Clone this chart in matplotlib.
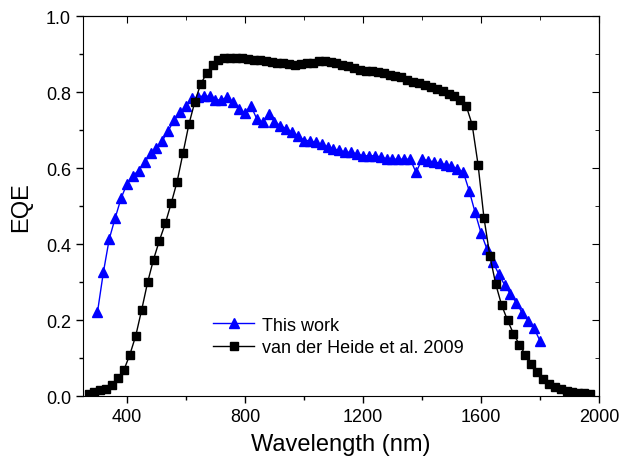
import matplotlib
matplotlib.use("Agg")
import matplotlib.pyplot as plt
from matplotlib.ticker import MultipleLocator

plt.rcParams['font.family'] = ['Liberation Sans', 'DejaVu Sans']

# This work (blue triangles)
wl_this = [300, 320, 340, 360, 380, 400, 420, 440, 460, 480,
           500, 520, 540, 560, 580, 600, 620, 640, 660, 680,
           700, 720, 740, 760, 780, 800, 820, 840, 860, 880,
           900, 920, 940, 960, 980, 1000, 1020, 1040, 1060, 1080,
           1100, 1120, 1140, 1160, 1180, 1200, 1220, 1240, 1260, 1280,
           1300, 1320, 1340, 1360, 1380, 1400, 1420, 1440, 1460, 1480,
           1500, 1520, 1540, 1560, 1580, 1600, 1620, 1640, 1660, 1680,
           1700, 1720, 1740, 1760, 1780, 1800]
eqe_this = [0.221, 0.326, 0.414, 0.469, 0.521, 0.559, 0.581, 0.594, 0.616, 0.639,
            0.653, 0.673, 0.699, 0.727, 0.747, 0.763, 0.784, 0.787, 0.791, 0.789,
            0.780, 0.780, 0.787, 0.774, 0.756, 0.746, 0.765, 0.730, 0.721, 0.743,
            0.723, 0.712, 0.704, 0.695, 0.686, 0.673, 0.673, 0.668, 0.663, 0.657,
            0.651, 0.647, 0.643, 0.642, 0.638, 0.633, 0.633, 0.633, 0.630, 0.625,
            0.624, 0.624, 0.624, 0.624, 0.589, 0.624, 0.620, 0.617, 0.613, 0.610,
            0.606, 0.598, 0.590, 0.541, 0.484, 0.430, 0.388, 0.354, 0.322, 0.293,
            0.269, 0.246, 0.219, 0.199, 0.179, 0.146]

# van der Heide et al. 2009 (black squares)
wl_ref = [270, 290, 310, 330, 350, 370, 390, 410, 430, 450,
          470, 490, 510, 530, 550, 570, 590, 610, 630, 650,
          670, 690, 710, 730, 750, 770, 790, 810, 830, 850,
          870, 890, 910, 930, 950, 970, 990, 1010, 1030, 1050,
          1070, 1090, 1110, 1130, 1150, 1170, 1190, 1210, 1230, 1250,
          1270, 1290, 1310, 1330, 1350, 1370, 1390, 1410, 1430, 1450,
          1470, 1490, 1510, 1530, 1550, 1570, 1590, 1610, 1630, 1650,
          1670, 1690, 1710, 1730, 1750, 1770, 1790, 1810, 1830, 1850,
          1870, 1890, 1910, 1930, 1950, 1970]
eqe_ref = [0.006, 0.011, 0.017, 0.020, 0.030, 0.048, 0.070, 0.110, 0.160, 0.228,
           0.300, 0.360, 0.410, 0.455, 0.508, 0.565, 0.640, 0.716, 0.775, 0.822,
           0.850, 0.872, 0.885, 0.889, 0.890, 0.890, 0.889, 0.888, 0.886, 0.884,
           0.882, 0.880, 0.878, 0.878, 0.875, 0.872, 0.874, 0.876, 0.878, 0.882,
           0.883, 0.880, 0.877, 0.872, 0.868, 0.864, 0.860, 0.857, 0.855, 0.853,
           0.850, 0.846, 0.843, 0.839, 0.833, 0.828, 0.824, 0.819, 0.814, 0.809,
           0.803, 0.796, 0.790, 0.779, 0.764, 0.715, 0.610, 0.470, 0.370, 0.295,
           0.240, 0.200, 0.165, 0.136, 0.110, 0.086, 0.064, 0.045, 0.033, 0.024,
           0.018, 0.014, 0.011, 0.009, 0.008, 0.006]

fig = plt.figure(figsize=(6.19, 4.64), dpi=100)
ax = fig.add_axes([0.1336, 0.1437, 0.8341, 0.819])

ax.plot(wl_this, eqe_this, color='#0000ff', lw=1.0, marker='^', ms=6.5,
        label='This work')
ax.plot(wl_ref, eqe_ref, color='black', lw=1.0, marker='s', ms=5.5,
        label='van der Heide et al. 2009')

ax.set_xlim(250, 2000)
ax.set_ylim(0, 1.0)
ax.xaxis.set_major_locator(MultipleLocator(400))
ax.xaxis.set_minor_locator(MultipleLocator(200))
ax.yaxis.set_major_locator(MultipleLocator(0.2))
ax.yaxis.set_minor_locator(MultipleLocator(0.1))
ax.yaxis.set_major_formatter(matplotlib.ticker.FormatStrFormatter('%.1f'))

ax.tick_params(which='major', direction='out', length=5, width=1, labelsize=13)
ax.tick_params(which='minor', direction='out', length=3, width=1)

# mirrored ticks on top and right, pointing inward
top = ax.secondary_xaxis('top')
top.xaxis.set_major_locator(MultipleLocator(400))
top.xaxis.set_minor_locator(MultipleLocator(200))
top.tick_params(which='major', direction='in', length=5, labeltop=False)
top.tick_params(which='minor', direction='in', length=3)
right = ax.secondary_yaxis('right')
right.yaxis.set_major_locator(MultipleLocator(0.2))
right.yaxis.set_minor_locator(MultipleLocator(0.1))
right.tick_params(which='major', direction='in', length=5, labelright=False)
right.tick_params(which='minor', direction='in', length=3)

ax.set_xlabel('Wavelength (nm)', fontsize=17, labelpad=6)
ax.set_ylabel('EQE', fontsize=17, labelpad=10)

ax.legend(loc='upper left', bbox_to_anchor=(0.252, 0.21), frameon=False,
          fontsize=13, handlelength=2.3, handletextpad=0.4, borderpad=0,
          borderaxespad=0, labelspacing=0.3)

fig.savefig('out.png', dpi=100)
